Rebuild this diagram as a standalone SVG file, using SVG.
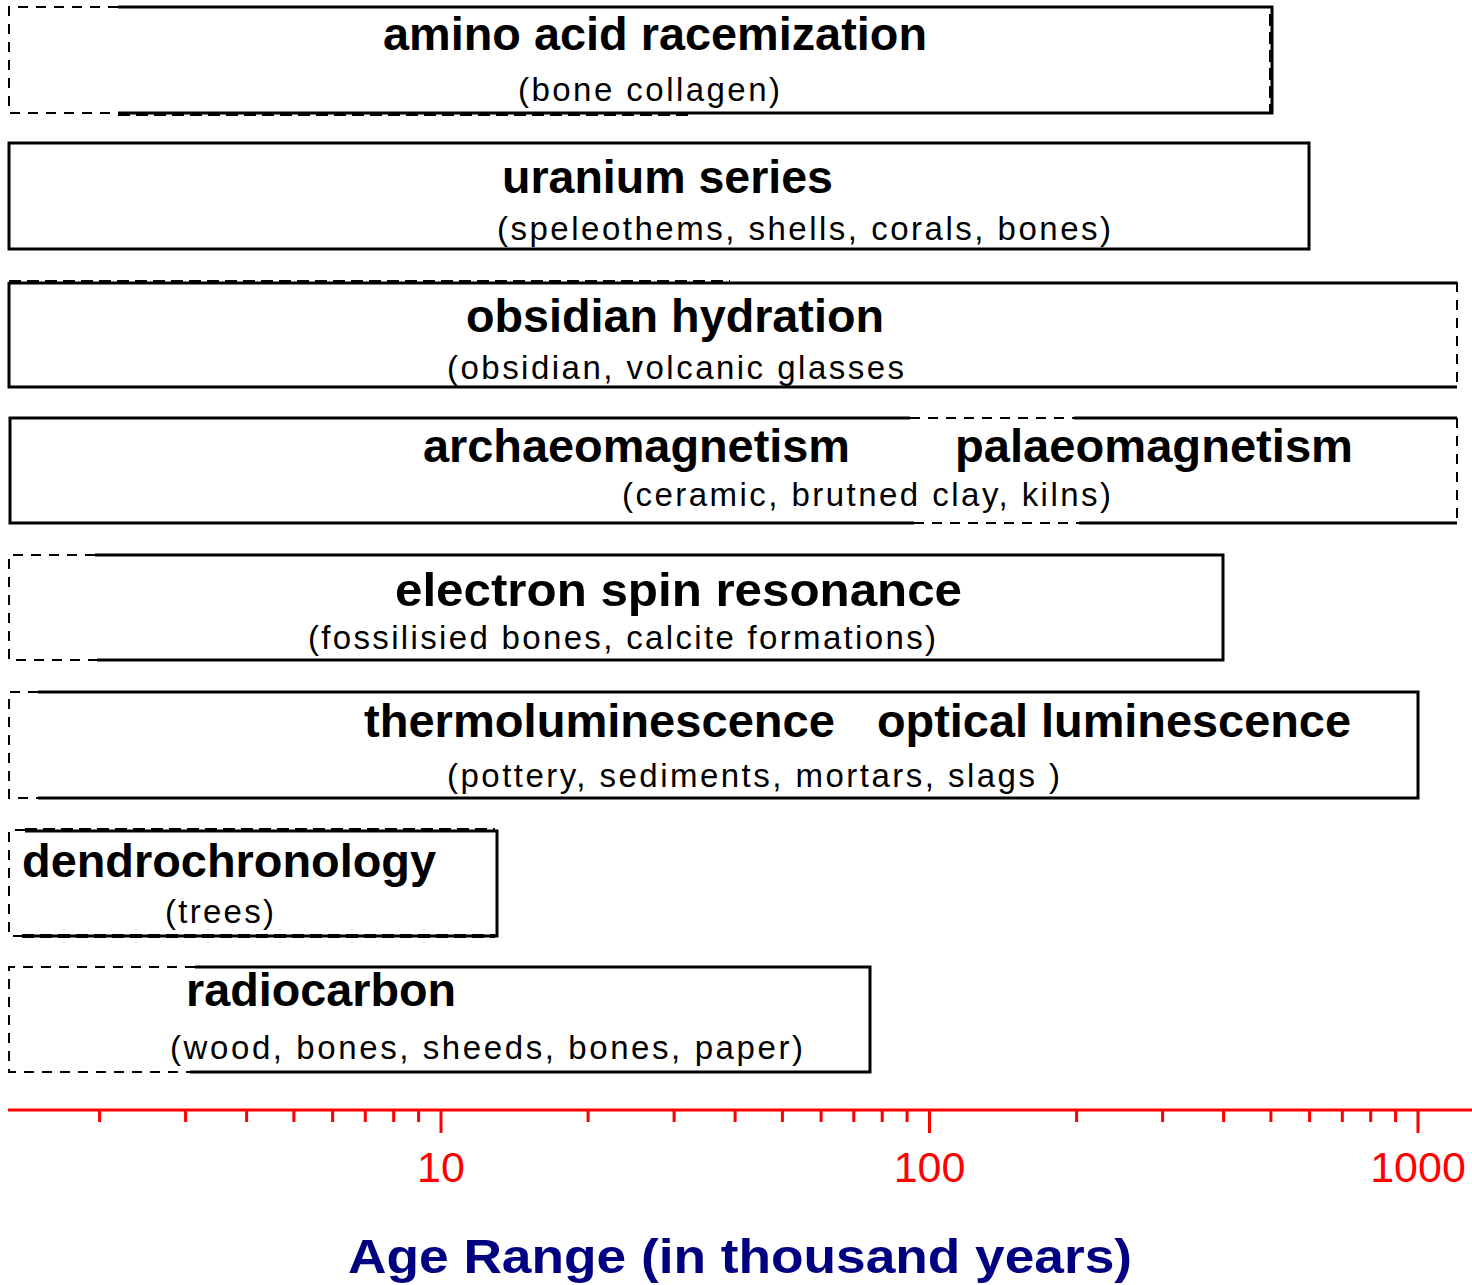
<svg xmlns="http://www.w3.org/2000/svg" width="1472" height="1285" viewBox="0 0 1472 1285">
<style>
.s{fill:none;stroke:#000;stroke-width:3}
.d{fill:none;stroke:#000;stroke-width:2;stroke-dasharray:10 8}
.td{fill:none;stroke:#000;stroke-width:4;stroke-dasharray:12 6}
.h{font-family:"Liberation Sans",Arial,sans-serif;font-weight:bold;font-size:47px;fill:#000}
.t{font-family:"Liberation Sans",Arial,sans-serif;font-size:33px;fill:#000}
.ax{fill:none;stroke:#f00;stroke-width:3}
.al{font-family:"Liberation Sans",Arial,sans-serif;font-size:43px;fill:#f00;text-anchor:middle}
.ti{font-family:"Liberation Sans",Arial,sans-serif;font-weight:bold;font-size:48px;fill:#000080;text-anchor:middle}
</style>
<rect width="1472" height="1285" fill="#fff"/>
<g id="amino-acid-racemization">
<path class="d" d="M118,7 H9 V113 H118"/>
<path class="s" d="M118,7 H1272 V113 H118"/>
<path class="td" d="M118,114 H690"/>
<path class="td" d="M1271,14 V113"/>
<text class="h" x="383" y="50" textLength="544" lengthAdjust="spacingAndGlyphs">amino acid racemization</text>
<text class="t" x="518" y="101" textLength="262" lengthAdjust="spacing">(bone collagen)</text>
</g>
<g id="uranium-series">
<path class="s" d="M9,143 H1309 V249 H9 Z"/>
<text class="h" x="502" y="193" textLength="331" lengthAdjust="spacingAndGlyphs">uranium series</text>
<text class="t" x="497" y="240" textLength="614" lengthAdjust="spacing">(speleothems, shells, corals, bones)</text>
</g>
<g id="obsidian-hydration">
<path class="s" d="M9,283 H1457 M1457,387 H9 V282"/>
<path class="td" d="M9,282 H730"/>
<path class="d" d="M1457,282 V387"/>
<text class="h" x="466" y="332" textLength="418" lengthAdjust="spacingAndGlyphs">obsidian hydration</text>
<text class="t" x="447" y="379" textLength="457" lengthAdjust="spacing">(obsidian, volcanic glasses</text>
</g>
<g id="archaeomagnetism">
<path class="s" d="M910,418 H10 V523 H914 M1074,418 H1457 M1079,523 H1457"/>
<path class="d" d="M910,418 H1074 M914,523 H1079 M1457,418 V523"/>
<text class="h" x="423" y="462" textLength="427" lengthAdjust="spacingAndGlyphs">archaeomagnetism</text>
<text class="h" x="955" y="462" textLength="398" lengthAdjust="spacingAndGlyphs">palaeomagnetism</text>
<text class="t" x="622" y="506" textLength="489" lengthAdjust="spacing">(ceramic, brutned clay, kilns)</text>
</g>
<g id="electron-spin-resonance">
<path class="d" d="M95,555 H9 V660 H97"/>
<path class="s" d="M95,555 H1223 V660 H97"/>
<text class="h" x="395" y="606" textLength="567" lengthAdjust="spacingAndGlyphs">electron spin resonance</text>
<text class="t" x="308" y="649" textLength="628" lengthAdjust="spacing">(fossilisied bones, calcite formations)</text>
</g>
<g id="thermoluminescence">
<path class="d" d="M38,692 H9 V798 H38"/>
<path class="s" d="M38,692 H1418 V798 H38"/>
<text class="h" x="364" y="737" textLength="471" lengthAdjust="spacingAndGlyphs">thermoluminescence</text>
<text class="h" x="877" y="737" textLength="474" lengthAdjust="spacingAndGlyphs">optical luminescence</text>
<text class="t" x="447" y="787" textLength="613" lengthAdjust="spacing">(pottery, sediments, mortars, slags )</text>
</g>
<g id="dendrochronology">
<path class="d" d="M25,830 H9 V936 H22"/>
<path class="s" d="M25,831 H497 V936 H22"/>
<path class="td" d="M25,830 H495 M22,936 H495"/>
<text class="h" x="22" y="877" textLength="414" lengthAdjust="spacingAndGlyphs">dendrochronology</text>
<text class="t" x="165" y="923" textLength="109" lengthAdjust="spacing">(trees)</text>
</g>
<g id="radiocarbon">
<path class="d" d="M195,967 H9 V1072 H190"/>
<path class="s" d="M195,967 H870 V1072 H190"/>
<text class="h" x="186" y="1006" textLength="270" lengthAdjust="spacingAndGlyphs">radiocarbon</text>
<text class="t" x="170" y="1059" textLength="633" lengthAdjust="spacing">(wood, bones, sheeds, bones, paper)</text>
</g>
<g id="axis">
<path class="ax" d="M8,1110 H1472"/>
<path class="ax" d="M99.6,1110 V1122 M185.6,1110 V1122 M246.6,1110 V1122 M293.9,1110 V1122 M332.6,1110 V1122 M365.3,1110 V1122 M393.7,1110 V1122 M418.6,1110 V1122 M588.1,1110 V1122 M674.1,1110 V1122 M735.1,1110 V1122 M782.4,1110 V1122 M821.1,1110 V1122 M853.8,1110 V1122 M882.2,1110 V1122 M907.1,1110 V1122 M1076.6,1110 V1122 M1162.6,1110 V1122 M1223.6,1110 V1122 M1270.9,1110 V1122 M1309.6,1110 V1122 M1342.3,1110 V1122 M1370.7,1110 V1122 M1395.6,1110 V1122"/>
<path class="ax" d="M441,1110 V1133 M929.5,1110 V1133 M1418,1110 V1133"/>
<text class="al" x="441" y="1182">10</text>
<text class="al" x="929.5" y="1182">100</text>
<text class="al" x="1418" y="1182">1000</text>
<text class="ti" x="740" y="1273" textLength="784" lengthAdjust="spacingAndGlyphs">Age Range (in thousand years)</text>
</g>
</svg>
